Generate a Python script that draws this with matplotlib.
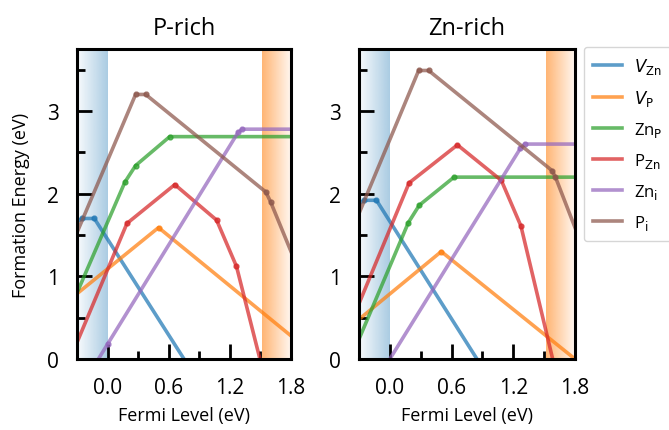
import numpy as np
import matplotlib
matplotlib.use("Agg")
import matplotlib.pyplot as plt
from matplotlib.colors import to_rgb

plt.rcParams['font.family'] = ['Open Sans', 'DejaVu Sans']

# defect formation energy breakpoints (Fermi level eV, energy eV)
labels = ['$V_{\\mathrm{Zn}}$', '$V_{\\mathrm{P}}$', 'Zn$_{\\mathrm{P}}$',
          'P$_{\\mathrm{Zn}}$', 'Zn$_{\\mathrm{i}}$', 'P$_{\\mathrm{i}}$']
colors = ['tab:blue', 'tab:orange', 'tab:green', 'tab:red', 'tab:purple', 'tab:brown']

p_rich_x = [
    [-0.3, -0.25, -0.13, 0.75],
    [-0.3, 0.50, 1.8],
    [-0.3, 0.17, 0.275, 0.61, 1.8],
    [-0.3, 0.19, 0.66, 1.07, 1.265, 1.495],
    [-0.09, 0.0, 1.28, 1.32, 1.8],
    [-0.3, 0.275, 0.374, 1.553, 1.60, 1.8],
]
p_rich_y = [
    [1.66, 1.70, 1.70, 0.0],
    [0.79, 1.59, 0.28],
    [0.80, 2.14, 2.34, 2.69, 2.69],
    [0.20, 1.64, 2.11, 1.68, 1.12, 0.0],
    [0.0, 0.18, 2.74, 2.78, 2.78],
    [1.53, 3.20, 3.20, 2.02, 1.90, 1.30],
]

zn_rich_x = [
    [-0.3, -0.25, -0.13, 0.847],
    [-0.3, 0.50, 1.8],
    [-0.3, 0.18, 0.286, 0.624, 1.8],
    [-0.3, 0.187, 0.657, 1.084, 1.274, 1.583],
    [0.0, 1.27, 1.313, 1.8],
    [-0.3, 0.28, 0.377, 1.576, 1.61, 1.8],
]
zn_rich_y = [
    [1.88, 1.92, 1.92, 0.0],
    [0.48, 1.30, 0.0],
    [0.24, 1.65, 1.86, 2.20, 2.20],
    [0.67, 2.13, 2.59, 2.16, 1.61, 0.0],
    [0.0, 2.55, 2.60, 2.60],
    [1.76, 3.49, 3.49, 2.28, 2.20, 1.59],
]

xmin, xmax = -0.3, 1.8
ymin, ymax = 0.0, 3.75
vbm, cbm = 0.0, 1.52


def gradient(ax, x0, x1, color, a_left, a_right):
    rgba = np.zeros((1, 200, 4))
    rgba[..., :3] = to_rgb(color)
    rgba[..., 3] = np.linspace(a_left, a_right, 200)
    ax.imshow(rgba, extent=[x0, x1, ymin, ymax], aspect='auto',
              interpolation='bilinear', zorder=0)


def panel(ax, xs, ys, title):
    gradient(ax, xmin, vbm, 'tab:blue', 0.03, 0.38)
    gradient(ax, cbm, xmax, 'tab:orange', 0.58, 0.06)
    for x, y, c, lab in zip(xs, ys, colors, labels):
        ax.plot(x, y, color=c, lw=2.6, alpha=0.72, label=lab, zorder=2)
        ax.plot(x[1:-1], y[1:-1], 'o', color=c, ms=3.5, alpha=0.72, zorder=2)
    ax.set_xlim(xmin, xmax)
    ax.set_ylim(ymin, ymax)
    ax.set_xticks([0.0, 0.6, 1.2, 1.8])
    ax.set_xticks([0.3, 0.9, 1.5], minor=True)
    ax.set_yticks([0, 1, 2, 3])
    ax.set_yticks([0.5, 1.5, 2.5, 3.5], minor=True)
    ax.set_xticklabels(['0.0', '0.6', '1.2', '1.8'])
    ax.tick_params(which='major', direction='in', length=11, width=2.0,
                   labelsize=15, pad=13)
    ax.tick_params(which='minor', direction='in', length=6, width=2.0)
    for s in ax.spines.values():
        s.set_linewidth(2.2)
    ax.set_title(title, fontsize=17, pad=11)
    ax.set_xlabel('Fermi Level (eV)', fontsize=13, labelpad=6)


fig = plt.figure(figsize=(6.69, 4.31), dpi=100)
ax1 = fig.add_axes([0.1151, 0.1647, 0.3199, 0.7193])
ax2 = fig.add_axes([0.5366, 0.1647, 0.3229, 0.7193])

panel(ax1, p_rich_x, p_rich_y, 'P-rich')
panel(ax2, zn_rich_x, zn_rich_y, 'Zn-rich')
ax1.set_ylabel('Formation Energy (eV)', fontsize=13, labelpad=12)

handles, labs = ax2.get_legend_handles_labels()
fig.legend(handles, labs, loc='upper left', bbox_to_anchor=(584 / 669, 1 - 48 / 431),
           fontsize=12, frameon=True, edgecolor='0.8', handlelength=1.7,
           handletextpad=0.75, labelspacing=0.72, borderpad=0.55, borderaxespad=0)

fig.savefig('out.png', dpi=100)
